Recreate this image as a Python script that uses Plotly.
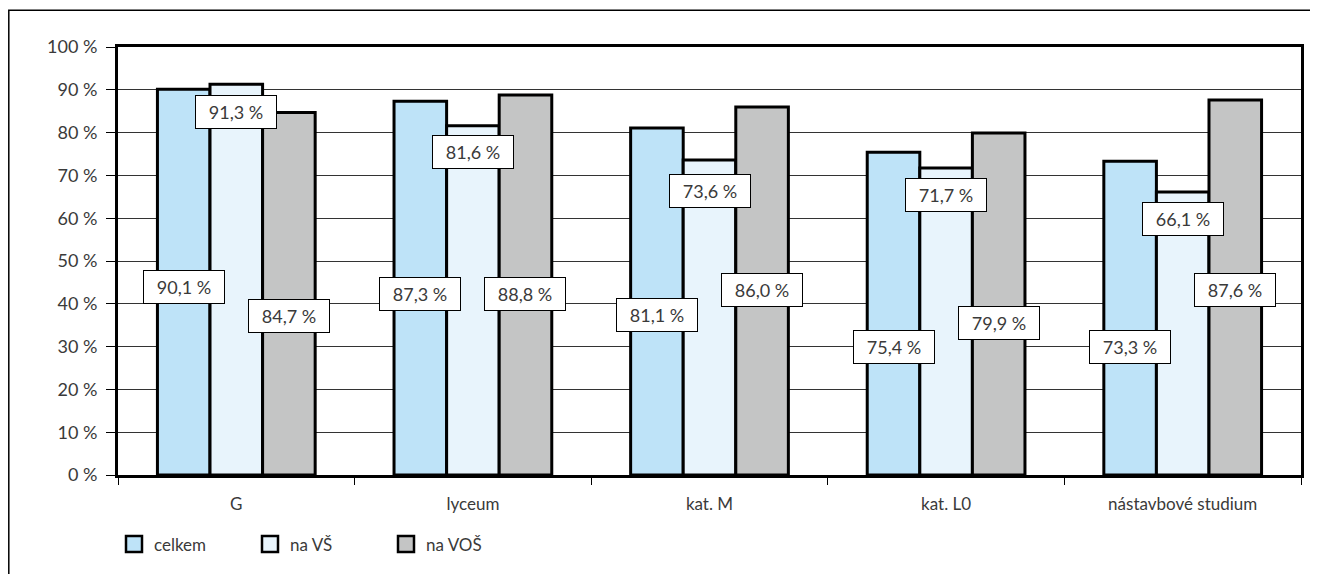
import plotly.graph_objects as go

categories = ["G", "lyceum", "kat. M", "kat. L0", "nástavbové studium"]
series_names = ["celkem", "na VŠ", "na VOŠ"]
celkem = [90.1, 87.3, 81.1, 75.4, 73.3]
na_vs = [91.3, 81.6, 73.6, 71.7, 66.1]
na_vos = [84.7, 88.8, 86.0, 79.9, 87.6]
label_texts = [
    ["90,1 %", "87,3 %", "81,1 %", "75,4 %", "73,3 %"],
    ["91,3 %", "81,6 %", "73,6 %", "71,7 %", "66,1 %"],
    ["84,7 %", "88,8 %", "86,0 %", "79,9 %", "87,6 %"],
]
# vertical positions (in axis units) where the value boxes sit
label_pos = [
    [43.9, 42.2, 37.3, 30.0, 30.0],
    [84.7, 75.5, 66.4, 65.5, 59.9],
    [37.2, 42.2, 43.2, 35.5, 43.3],
]
colors = ["#BEE3F8", "#E8F4FC", "#C4C5C5"]
FONT = "Lato"
TXT = "#3a3a3a"

W, H = 1310, 566
ML, MR, MT, MB = 110, 17, 39, 96
PW, PH = W - ML - MR, H - MT - MB

fig = go.Figure()
for name, vals, col in zip(series_names, [celkem, na_vs, na_vos], colors):
    fig.add_trace(go.Bar(
        x=categories, y=vals, name=name, showlegend=False,
        marker=dict(color=col, line=dict(color="black", width=3)),
        hoverinfo="skip",
    ))
# legend entries with larger square keys
for name, col in zip(series_names, colors):
    fig.add_trace(go.Scatter(
        x=[None], y=[None], mode="markers", name=name,
        marker=dict(symbol="square", size=17, color=col, line=dict(color="black", width=2.5)),
    ))

bw = (1 - 1/3) / 3
offsets = [-bw, 0, bw]
for s in range(3):
    for i in range(len(categories)):
        fig.add_annotation(
            x=i + offsets[s], y=label_pos[s][i], xref="x", yref="y",
            text=label_texts[s][i], showarrow=False,
            font=dict(family=FONT, size=18, color=TXT),
            bgcolor="white", bordercolor="black", borderwidth=1,
            borderpad=5, width=70, height=22,
        )

# outer frame of the chart object
fig.add_shape(type="rect", xref="paper", yref="paper",
              x0=(0.8 - ML) / PW, x1=1.2, y0=-0.5, y1=1 + (MT - 2) / PH,
              line=dict(color="black", width=1.5), fillcolor="rgba(0,0,0,0)",
              layer="below")

fig.update_layout(
    width=W, height=H,
    margin=dict(l=ML, r=MR, t=MT, b=MB),
    paper_bgcolor="white", plot_bgcolor="white",
    barmode="group", bargap=1/3, bargroupgap=0,
    font=dict(family=FONT, size=18, color=TXT),
    showlegend=True,
    legend=dict(orientation="h", x=(106 - ML) / PW, xanchor="left",
                y=-70 / PH, yanchor="middle",
                font=dict(family=FONT, size=17, color=TXT),
                entrywidth=91, entrywidthmode="pixels",
                bgcolor="rgba(0,0,0,0)", traceorder="normal"),
)
fig.update_xaxes(
    type="category", range=[-0.5, 4.5],
    showline=True, linecolor="black", linewidth=3, mirror=True,
    ticks="outside", tickson="boundaries", ticklen=7, tickwidth=1, tickcolor="black",
    showgrid=False, ticklabelstandoff=12,
    tickfont=dict(family=FONT, size=17, color=TXT),
)
fig.update_yaxes(
    range=[0, 100], dtick=10, ticksuffix=" %",
    showline=True, linecolor="black", linewidth=3, mirror=True,
    ticks="outside", ticklen=9, tickwidth=1, tickcolor="black",
    showgrid=True, gridcolor="#333333", gridwidth=1,
    ticklabelstandoff=5, zeroline=False,
    tickfont=dict(family=FONT, size=18, color=TXT),
)
fig.write_html("out.html")
